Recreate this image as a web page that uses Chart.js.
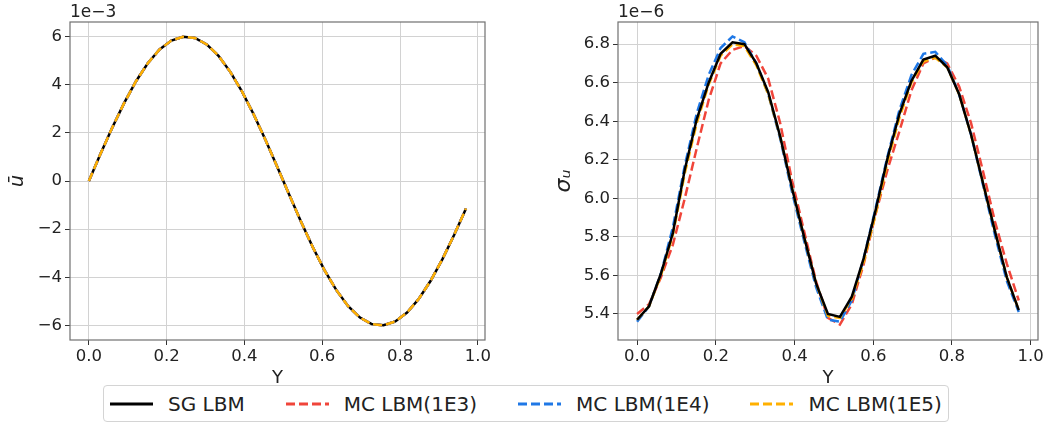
<!DOCTYPE html>
<html>
<head>
<meta charset="utf-8">
<script src="https://cdn.jsdelivr.net/npm/chart.js@4.4.1/dist/chart.umd.min.js"></script>
<style>
  html, body { margin: 0; padding: 0; background: #fff; }
  body { width: 1053px; height: 425px; position: relative; overflow: hidden; font-family: "DejaVu Sans", sans-serif; }
  .panel { position: absolute; top: 0; height: 385px; }
  #legend {
    position: absolute; left: 103px; top: 385px; width: 846px; height: 37px;
    border: 1px solid #d4d4d4; border-radius: 4px;
    display: flex; align-items: center; padding-left: 6px; box-sizing: border-box;
    font-size: 20px; color: #222; white-space: nowrap;
  }
  #legend .item { display: flex; align-items: center; flex: none; margin-right: 41px; }
  #legend svg { margin-right: 15px; }
</style>
</head>
<body>
<div class="panel" style="left:0;width:530px"><canvas id="mean-chart"></canvas></div>
<div class="panel" style="left:530px;width:523px"><canvas id="std-chart"></canvas></div>
<div id="legend"></div>
<script>
// Y positions of the lattice nodes (33 nodes)
const yNodes = [0, 0.0303, 0.0606, 0.0909, 0.1212, 0.1515, 0.1818, 0.2121, 0.2424, 0.2727, 0.3030,
  0.3333, 0.3636, 0.3939, 0.4242, 0.4545, 0.4848, 0.5152, 0.5455, 0.5758, 0.6061, 0.6364,
  0.6667, 0.6970, 0.7273, 0.7576, 0.7879, 0.8182, 0.8485, 0.8788, 0.9091, 0.9394, 0.9697];

// mean velocity, units of 1e-3 (all four methods coincide at this scale)
const uMean = [0, 1.14, 2.23, 3.24, 4.14, 4.89, 5.46, 5.83, 5.99, 5.94, 5.67,
  5.20, 4.53, 3.71, 2.75, 1.69, 0.57, -0.57, -1.69, -2.75, -3.71, -4.53,
  -5.20, -5.67, -5.94, -5.99, -5.83, -5.46, -4.89, -4.14, -3.24, -2.23, -1.14];

// standard deviation, units of 1e-6
const sigmaSG = [5.37, 5.44, 5.61, 5.82, 6.15, 6.41, 6.60, 6.75, 6.81, 6.80, 6.70,
  6.55, 6.32, 6.05, 5.80, 5.56, 5.40, 5.385, 5.49, 5.69, 5.94, 6.21,
  6.44, 6.61, 6.72, 6.74, 6.68, 6.54, 6.33, 6.08, 5.83, 5.59, 5.42];
const sigmaMC3 = [5.40, 5.45, 5.59, 5.76, 6.00, 6.26, 6.51, 6.70, 6.77, 6.79, 6.74,
  6.62, 6.39, 6.09, 5.83, 5.57, 5.38, 5.345, 5.45, 5.66, 5.92, 6.15,
  6.35, 6.56, 6.70, 6.73, 6.70, 6.58, 6.39, 6.14, 5.88, 5.66, 5.47];
const sigmaMC4 = [5.36, 5.44, 5.61, 5.85, 6.17, 6.44, 6.64, 6.78, 6.84, 6.81, 6.70,
  6.54, 6.31, 6.03, 5.78, 5.54, 5.37, 5.36, 5.47, 5.69, 5.95, 6.22,
  6.46, 6.64, 6.75, 6.76, 6.69, 6.54, 6.33, 6.07, 5.81, 5.57, 5.41];
const sigmaMC5 = [5.37, 5.44, 5.60, 5.81, 6.13, 6.39, 6.59, 6.74, 6.80, 6.79, 6.69,
  6.54, 6.32, 6.05, 5.80, 5.56, 5.39, 5.38, 5.48, 5.67, 5.92, 6.19,
  6.42, 6.60, 6.71, 6.73, 6.68, 6.54, 6.33, 6.08, 5.83, 5.59, 5.42];

const seriesNames = ['SG LBM', 'MC LBM(1E3)', 'MC LBM(1E4)', 'MC LBM(1E5)'];
const seriesColors = ['#000000', '#f0453a', '#1f78e6', '#ffb000'];
const xTicks = [0, 0.2, 0.4, 0.6, 0.8, 1.0];
const uTicks = [-6, -4, -2, 0, 2, 4, 6];
const sigmaTicks = [5.4, 5.6, 5.8, 6.0, 6.2, 6.4, 6.6, 6.8];

const FONT = '"DejaVu Sans", sans-serif';
const TEXT = '#222';
const GRID = '#d2d2d2';

function pts(vals) {
  return vals.map((v, i) => ({ x: yNodes[i], y: v }));
}

function makeSet(idx, vals, order) {
  return {
    label: seriesNames[idx],
    data: pts(vals),
    borderColor: seriesColors[idx],
    borderWidth: 2.5,
    borderDash: idx === 0 ? [] : [9, 4],
    pointRadius: 0,
    tension: 0,
    fill: false,
    order: order
  };
}

// full box around the axes plus the scale offset text ("1e-3")
const framePlugin = {
  id: 'frame',
  afterDraw(chart, args, opts) {
    const { ctx, chartArea: a } = chart;
    ctx.save();
    ctx.strokeStyle = '#707070';
    ctx.lineWidth = 1.2;
    ctx.strokeRect(a.left, a.top, a.right - a.left, a.bottom - a.top);
    ctx.fillStyle = TEXT;
    ctx.font = '17px ' + FONT;
    ctx.textBaseline = 'bottom';
    ctx.textAlign = 'left';
    ctx.fillText(opts.offset, a.left, a.top - 1);
    ctx.restore();
  }
};

function makeOptions(o) {
  return {
    responsive: true,
    maintainAspectRatio: false,
    animation: false,
    layout: { padding: { top: 22, right: o.right, bottom: 0, left: 0 } },
    plugins: {
      legend: { display: false },
      tooltip: { enabled: false },
      frame: { offset: o.offset }
    },
    scales: {
      x: {
        type: 'linear',
        min: -0.0485,
        max: 1.0185,
        afterBuildTicks: s => { s.ticks = xTicks.map(v => ({ value: v })); },
        afterFit: s => { s.height = 45; },
        grid: { color: GRID, tickColor: '#333', tickLength: 5, lineWidth: 1 },
        border: { display: false },
        ticks: { color: TEXT, font: { family: FONT, size: 16.5 }, padding: 2, callback: v => v.toFixed(1), maxRotation: 0 },
        title: { display: true, text: 'Y', color: TEXT, font: { family: FONT, size: 18 }, padding: { top: 0, bottom: -4 } }
      },
      y: {
        min: o.ymin,
        max: o.ymax,
        afterBuildTicks: s => { s.ticks = o.yticks.map(v => ({ value: v })); },
        afterFit: s => { s.width = o.yw; },
        grid: { color: GRID, tickColor: '#333', tickLength: 5, lineWidth: 1 },
        border: { display: false },
        ticks: { color: TEXT, font: { family: FONT, size: 16.5 }, padding: 3, callback: o.fmt },
        title: { display: true, text: o.ytitle, color: TEXT, font: { family: FONT, size: o.tsize, style: 'italic' }, padding: { top: o.tpad, bottom: 0 } }
      }
    }
  };
}

new Chart(document.getElementById('mean-chart'), {
  type: 'line',
  data: {
    datasets: [
      makeSet(0, uMean, 4),
      makeSet(1, uMean, 3),
      makeSet(2, uMean, 2),
      makeSet(3, uMean, 1)
    ]
  },
  options: makeOptions({
    right: 45, yw: 70, ymin: -6.6, ymax: 6.6, yticks: uTicks,
    fmt: v => (v < 0 ? '\u2212' + Math.abs(v) : String(v)),
    ytitle: '\u016B', offset: '1e\u22123', tsize: 19, tpad: 7
  }),
  plugins: [framePlugin]
});

new Chart(document.getElementById('std-chart'), {
  type: 'line',
  data: {
    datasets: [
      makeSet(0, sigmaSG, 1),
      makeSet(1, sigmaMC3, 4),
      makeSet(2, sigmaMC4, 3),
      makeSet(3, sigmaMC5, 2)
    ]
  },
  options: makeOptions({
    right: 15, yw: 88, ymin: 5.265, ymax: 6.915, yticks: sigmaTicks,
    fmt: v => v.toFixed(1),
    ytitle: '\u03C3\u1D64', offset: '1e\u22126', tsize: 22, tpad: 21
  }),
  plugins: [framePlugin]
});

// shared legend under both panels
const legend = document.getElementById('legend');
seriesNames.forEach((name, i) => {
  const item = document.createElement('div');
  item.className = 'item';
  const dash = i === 0 ? '' : 'stroke-dasharray="9 4"';
  item.innerHTML = '<svg width="43" height="6"><line x1="0" y1="3" x2="43" y2="3" stroke="' +
    seriesColors[i] + '" stroke-width="3" ' + dash + '/></svg><span>' + name + '</span>';
  legend.appendChild(item);
});
</script>
</body>
</html>
